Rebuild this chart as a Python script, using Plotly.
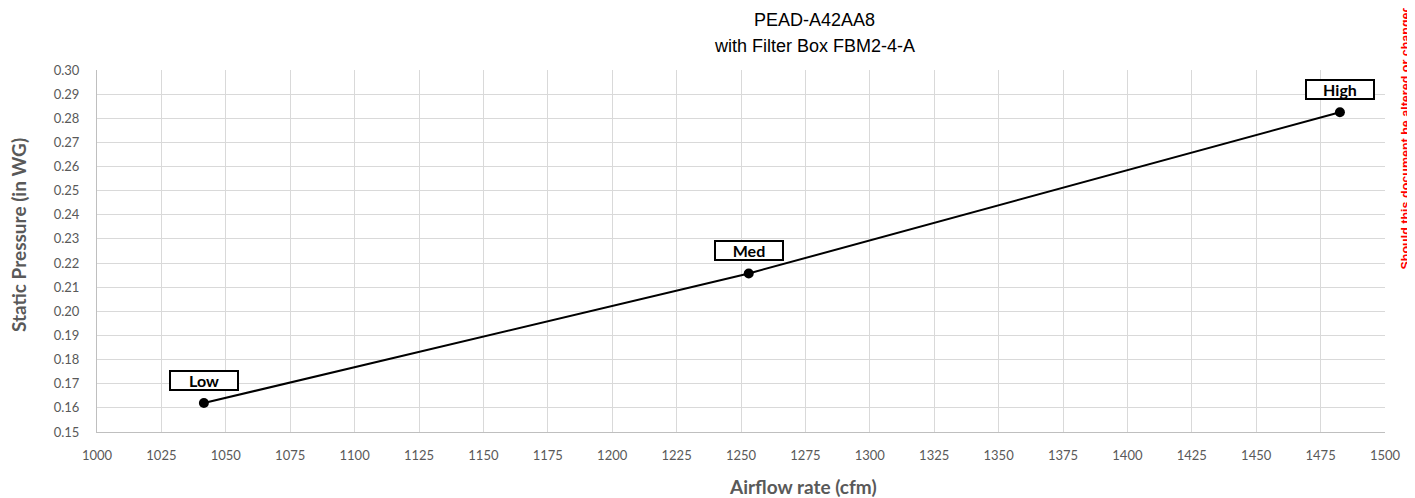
import plotly.graph_objects as go

airflow = [1041.5, 1253, 1482.5]
pressure = [0.162, 0.2157, 0.2825]
labels = ["Low", "Med", "High"]
x_ticks = list(range(1000, 1501, 25))
y_ticks = [round(0.15 + 0.01 * i, 2) for i in range(16)]

TICK_FONT = dict(family="Lato, Open Sans, sans-serif", size=13, color="#595959")

# the page body adds an 8px offset; the figure is sized to fill the rest
OFF = 8
W, H = 1415 - OFF, 498 - OFF
L, T = 97 - OFF, 70 - OFF
R = W - (1385 - OFF)
B = H - (432 - OFF)
PW, PH = W - L - R, H - T - B


def px(xp):
    return ((xp - OFF) - L) / PW


def py(yp):
    return ((H - B) - (yp - OFF)) / PH


fig = go.Figure()
fig.add_trace(go.Scatter(
    x=airflow, y=pressure, mode="lines+markers",
    line=dict(color="black", width=2),
    marker=dict(color="black", size=10),
    showlegend=False, hoverinfo="skip",
))

for xv, yv, lab in zip(airflow, pressure, labels):
    fig.add_annotation(
        x=xv, y=yv, xref="x", yref="y", text="<b>%s</b>" % lab, showarrow=False,
        yshift=23, width=66, height=17, borderpad=0, borderwidth=2,
        bordercolor="black", bgcolor="white",
        font=dict(family="Lato, sans-serif", size=16, color="black"),
    )

fig.add_annotation(
    text="PEAD-A42AA8", xref="paper", yref="paper", x=px(814), y=py(20),
    showarrow=False, xanchor="center", yanchor="middle",
    font=dict(family="Liberation Sans, Arial, sans-serif", size=18, color="black"),
)
fig.add_annotation(
    text="with Filter Box FBM2-4-A", xref="paper", yref="paper", x=px(814), y=py(46),
    showarrow=False, xanchor="center", yanchor="middle",
    font=dict(family="Liberation Sans, Arial, sans-serif", size=18, color="black"),
)
fig.add_annotation(
    text="<b>Airflow rate (cfm)</b>", xref="paper", yref="paper",
    x=px(803), y=py(486),
    showarrow=False, xanchor="center", yanchor="middle",
    font=dict(family="Lato, sans-serif", size=19, color="#595959"),
)
fig.add_annotation(
    text="<b>Static Pressure (in WG)</b>", xref="paper", yref="paper",
    x=px(18), y=py(235),
    showarrow=False, xanchor="center", yanchor="middle", textangle=-90,
    font=dict(family="Lato, sans-serif", size=19, color="#595959"),
)
fig.add_annotation(
    text="<b>Should this document be altered or changed</b>", xref="paper", yref="paper",
    x=px(1405), y=py(272),
    showarrow=False, xanchor="center", yanchor="bottom", textangle=-90,
    font=dict(family="Liberation Sans, Arial, sans-serif", size=12.5, color="#ff0000"),
)

fig.update_layout(
    width=W, height=H,
    margin=dict(l=L, r=R, t=T, b=B),
    plot_bgcolor="white", paper_bgcolor="white",
    xaxis=dict(
        range=[1000, 1500], tickvals=x_ticks, ticktext=[str(v) for v in x_ticks],
        showgrid=True, gridcolor="#d9d9d9", gridwidth=1,
        showline=True, linecolor="#bfbfbf", linewidth=1,
        zeroline=False, tickfont=TICK_FONT,
        ticks="outside", ticklen=11, tickcolor="rgba(0,0,0,0)",
    ),
    yaxis=dict(
        range=[0.15, 0.30], tickvals=y_ticks, ticktext=["%.2f" % v for v in y_ticks],
        showgrid=True, gridcolor="#d9d9d9", gridwidth=1,
        showline=True, linecolor="#bfbfbf", linewidth=1,
        zeroline=False, tickfont=TICK_FONT,
        ticks="outside", ticklen=14, tickcolor="rgba(0,0,0,0)",
    ),
)

fig.write_html("out.html")
